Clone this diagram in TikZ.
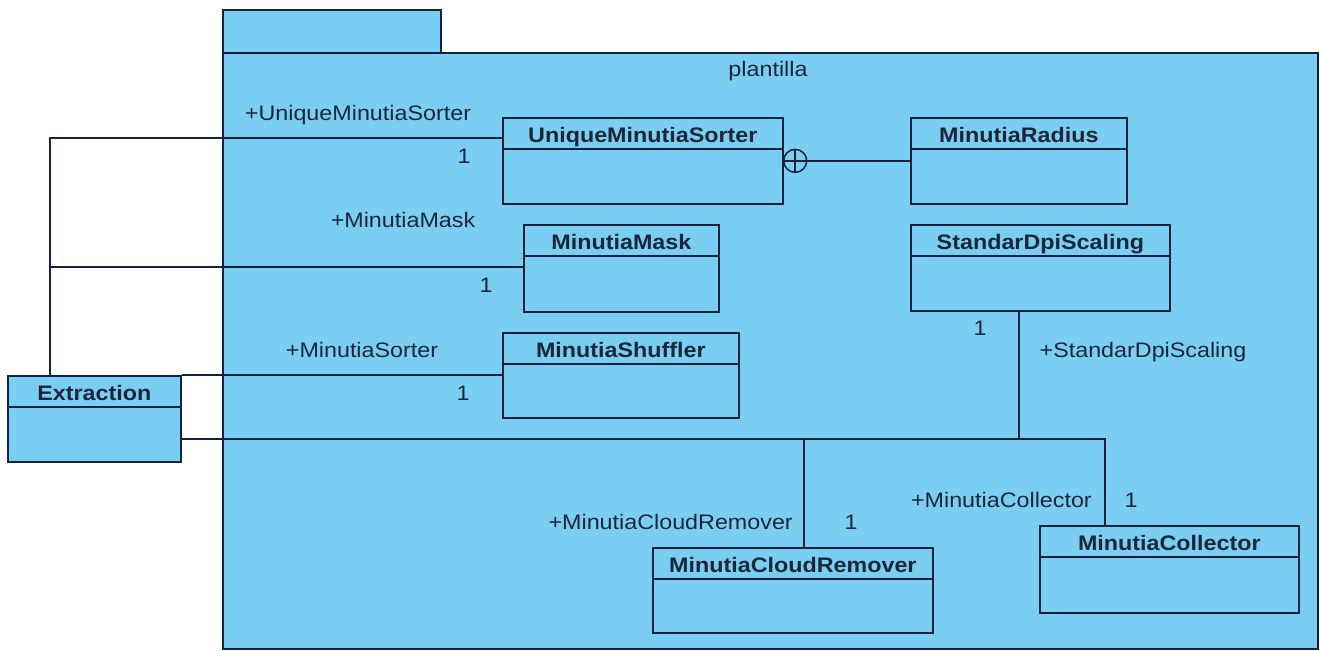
\documentclass[tikz,border=0pt]{standalone}
\usepackage{fontspec}
\setmainfont{Liberation Sans}
\definecolor{umlfill}{RGB}{122,206,242}
\definecolor{umlline}{RGB}{22,34,60}
\definecolor{umltext}{RGB}{25,38,58}
% one UML class: name, x, y (top left), width, height, title
\newcommand\umlclass[6]{%
  \node[cls, minimum width=#4, minimum height=#5, anchor=north west] (#1) at (#2,#3) {};
  \draw[line] ([yshift=-32pt]#1.north west) -- ([yshift=-32pt]#1.north east);
  \node[title, anchor=base] (#1-name) at ([yshift=-25pt]#1.north) {#6};
}
\begin{document}
\begin{tikzpicture}[x=1pt,y=-1pt,
  line/.style={draw=umlline, line width=1.7pt},
  cls/.style={draw=umlline, fill=umlfill, line width=1.7pt, inner sep=0pt, rectangle},
  title/.style={font=\fontsize{21}{24}\selectfont\bfseries, text=umltext, xscale=1.11, inner sep=0pt},
  lbl/.style={font=\fontsize{21}{24}\selectfont, text=umltext, xscale=1.11, inner sep=0pt, anchor=base},
]
\useasboundingbox (0,0) rectangle (1321,650);
\fill[white] (0,0) rectangle (1321,650);

% package with its tab
\node[cls, minimum width=218, minimum height=43, anchor=north west] (tab) at (222,9) {};
\node[cls, minimum width=1095, minimum height=596, anchor=north west] (pkg) at (222,52) {};
\node[lbl] (pkgname) at (768,77) {plantilla};

% classes
\umlclass{ums}{502}{117}{280}{86}{UniqueMinutiaSorter}
\umlclass{rad}{910}{117}{216}{86}{MinutiaRadius}
\umlclass{mask}{523}{224}{195}{87}{MinutiaMask}
\umlclass{sds}{910}{224}{259}{86}{StandarDpiScaling}
\umlclass{shuf}{502}{332}{236}{85}{MinutiaShuffler}
\umlclass{ext}{7}{375}{173}{86}{Extraction}
\umlclass{mcr}{652}{547}{280}{85}{MinutiaCloudRemover}
\umlclass{mc}{1039}{525}{259}{87}{MinutiaCollector}

% nesting between UniqueMinutiaSorter and MinutiaRadius
\node[circle, draw=umlline, fill=umlfill, line width=1.5pt, minimum size=23, inner sep=0pt]
  (nest) at ([xshift=11.5pt]ums.east) {};
\draw[umlline, line width=1.5pt] (nest.north) -- (nest.south) (nest.west) -- (nest.east);
\draw[line] (nest.east) -- (rad.west);

% associations from Extraction
\coordinate (trunk) at ([xshift=43pt]ext.north west);
\coordinate (umsin) at ([yshift=-21pt]ums.north west);
\coordinate (maskin) at ([yshift=-43pt]mask.north west);
\coordinate (extout) at ([yshift=-64pt]ext.north east);
\coordinate (mcrin) at ([xshift=11pt]mcr.north);
\coordinate (mcin) at ([xshift=-64.5pt]mc.north);
\coordinate (sdsout) at ([xshift=-21.5pt]sds.south);

\draw[line] (umsin) -| (trunk);
\draw[line] (maskin) -- (trunk |- maskin);
\draw[line] (ext.north east) -- (ext.north east -| shuf.west);
\draw[line] (extout) -| (mcrin);
\draw[line] (extout) -| (mcin);
\draw[line] (sdsout) -- (sdsout |- extout);

% role names and multiplicities
\node[lbl] (r-ums) at (358,121) {+UniqueMinutiaSorter};
\node[lbl] (m-ums) at (464,163) {1};
\node[lbl] (r-mask) at (403,227) {+MinutiaMask};
\node[lbl] (m-mask) at (486,292) {1};
\node[lbl] (r-shuf) at (362,357) {+MinutiaSorter};
\node[lbl] (m-shuf) at (463,400) {1};
\node[lbl] (r-sds) at (1143,357) {+StandarDpiScaling};
\node[lbl] (m-sds) at (980,335) {1};
\node[lbl, anchor=base east] (r-mcr) at (793,529) {+MinutiaCloudRemover};
\node[lbl] (m-mcr) at (851,529) {1};
\node[lbl, anchor=base east] (r-mc) at (1092,507) {+MinutiaCollector};
\node[lbl] (m-mc) at (1131,507) {1};
\end{tikzpicture}
\end{document}
